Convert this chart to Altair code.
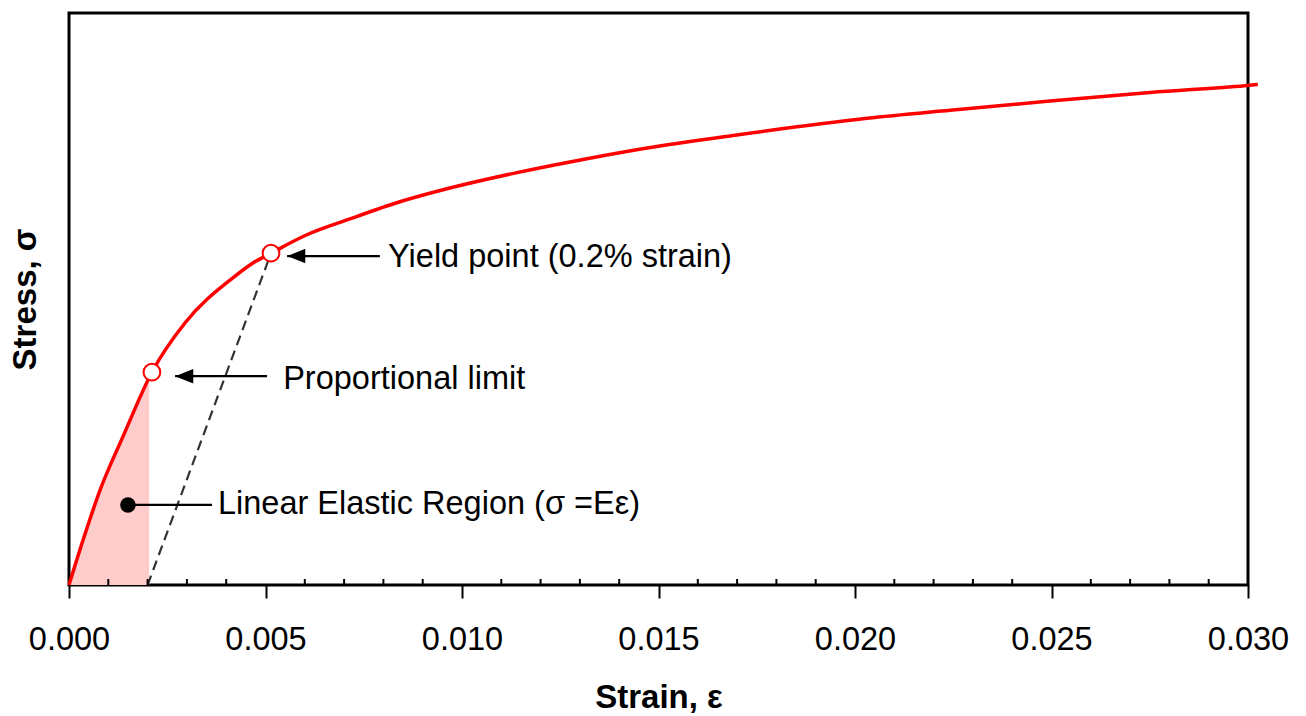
import altair as alt
import pandas as pd

# Stress-strain curve (stress in arbitrary units, 0-100 full scale)
strain = [0.0, 0.00036, 0.00079, 0.00137, 0.00211, 0.00295, 0.00417,
          0.00468, 0.00514, 0.00601, 0.00715, 0.00842, 0.00969, 0.01140,
          0.01308, 0.01471, 0.01690, 0.02031, 0.02242, 0.02496, 0.02751,
          0.02992, 0.03025]
stress = [0.0, 7.9, 16.6, 25.9, 37.2, 45.8, 53.7,
          56.3, 58.0, 61.1, 64.0, 67.0, 69.4, 72.1,
          74.4, 76.4, 78.6, 81.6, 83.0, 84.6, 86.1,
          87.3, 87.5]

# Shaded linear elastic region under the curve
shade_strain = [0.0, 0.00036, 0.00079, 0.00137, 0.00204]
shade_stress = [0.0, 7.9, 16.6, 25.9, 36.0]

# 0.2% offset line up to the yield point
offset_strain = [0.002, 0.00514]
offset_stress = [0.0, 58.0]

# Marked points: proportional limit and yield point
marker_strain = [0.00211, 0.00514]
marker_stress = [37.2, 58.0]

# Axis ticks
major_ticks = [0.0, 0.005, 0.010, 0.015, 0.020, 0.025, 0.030]
minor_ticks = [0.001, 0.002, 0.003, 0.004, 0.006, 0.007, 0.008, 0.009,
               0.011, 0.012, 0.013, 0.014, 0.016, 0.017, 0.018, 0.019,
               0.021, 0.022, 0.023, 0.024, 0.026, 0.027, 0.028, 0.029]

# Annotations
label_text = ["Yield point (0.2% strain)", "Proportional limit",
              "Linear Elastic Region (\u03c3 =E\u03b5)"]
label_x = [0.00812, 0.00545, 0.00379]
label_y = [57.4, 36.1, 14.2]

arrow_tip = [0.00555, 0.00270]
arrow_tail = [0.00791, 0.00504]
arrow_y = [57.5, 36.5]

dot_x = [0.00150]
dot_end = [0.00364]
dot_y = [14.0]

FONT = "Liberation Sans"

xscale = alt.Scale(domain=[0, 0.030], nice=False, zero=False)
yscale = alt.Scale(domain=[0, 100], nice=False)
xaxis = alt.Axis(values=major_ticks, format=".3f", title="Strain, \u03b5",
                 domain=False, grid=False, tickSize=13, tickWidth=2,
                 tickColor="black", labelFont=FONT, labelFontSize=32.5,
                 labelColor="black", labelPadding=25, labelFlush=False,
                 labelOverlap=False, titleFont=FONT, titleFontSize=33,
                 titleFontWeight="bold", titleColor="black", titlePadding=26)
yaxis = alt.Axis(title="Stress, \u03c3", labels=False, ticks=False, domain=False,
                 grid=False, titleFont=FONT, titleFontSize=33,
                 titleFontWeight="bold", titleColor="black", titlePadding=27)


def X(field):
    return alt.X(field, type="quantitative", scale=xscale, axis=xaxis)


def Y(field):
    return alt.Y(field, type="quantitative", scale=yscale, axis=yaxis)


curve_df = pd.DataFrame({"strain": strain, "stress": stress})
shade_df = pd.DataFrame({"strain": shade_strain, "stress": shade_stress})
offset_df = pd.DataFrame({"strain": offset_strain, "stress": offset_stress})
marker_df = pd.DataFrame({"strain": marker_strain, "stress": marker_stress})
minor_df = pd.DataFrame({"strain": minor_ticks})
label_df = pd.DataFrame({"text": label_text, "x": label_x, "y": label_y})
arrow_df = pd.DataFrame({"tip": arrow_tip, "tail": arrow_tail, "y": arrow_y})
dot_df = pd.DataFrame({"x": dot_x, "x2": dot_end, "y": dot_y})

shade = alt.Chart(shade_df).mark_area(color="#ffcccc", opacity=1).encode(
    x=X("strain"), y=Y("stress"))

offset_line = alt.Chart(offset_df).mark_line(
    color="#333333", strokeWidth=2.2, strokeDash=[10, 6]).encode(
    x=X("strain"), y=Y("stress"))

curve = alt.Chart(curve_df).mark_line(
    color="#ff0000", strokeWidth=3.5, interpolate="monotone").encode(
    x=X("strain"), y=Y("stress"))

minor = alt.Chart(minor_df).mark_rule(color="black", strokeWidth=2).encode(
    x=X("strain"), y=alt.value(572), y2=alt.value(566))

arrow_lines = alt.Chart(arrow_df).mark_rule(color="black", strokeWidth=2.2).encode(
    x=X("tip"), x2="tail", y=Y("y"))

arrow_heads = alt.Chart(arrow_df).mark_point(
    shape="M0,0L2,-0.8L2,0.8Z", filled=True, fill="black",
    strokeWidth=0, size=330, opacity=1).encode(x=X("tip"), y=Y("y"))

dot_line = alt.Chart(dot_df).mark_rule(color="black", strokeWidth=2.2).encode(
    x=X("x"), x2="x2", y=Y("y"))

dot = alt.Chart(dot_df).mark_point(
    shape="circle", filled=True, fill="black", size=240, opacity=1).encode(
    x=X("x"), y=Y("y"))

markers = alt.Chart(marker_df).mark_point(
    shape="circle", filled=True, fill="white", stroke="#ff0000",
    strokeWidth=2, size=280, opacity=1).encode(x=X("strain"), y=Y("stress"))

labels = alt.Chart(label_df).mark_text(
    align="left", baseline="middle", font=FONT, fontSize=32.5,
    color="black").encode(x=X("x"), y=Y("y"), text="text")

chart = alt.layer(
    shade, offset_line, curve, minor, arrow_lines, arrow_heads,
    dot_line, dot, markers, labels
).properties(
    width=1179, height=572,
    autosize=alt.AutoSizeParams(type="none"),
    padding={"left": 69, "top": 13, "right": 58, "bottom": 131},
    background="white",
).configure_view(stroke="black", strokeWidth=3)

chart.save("out.html", embed_options={"renderer": "svg", "actions": False})
